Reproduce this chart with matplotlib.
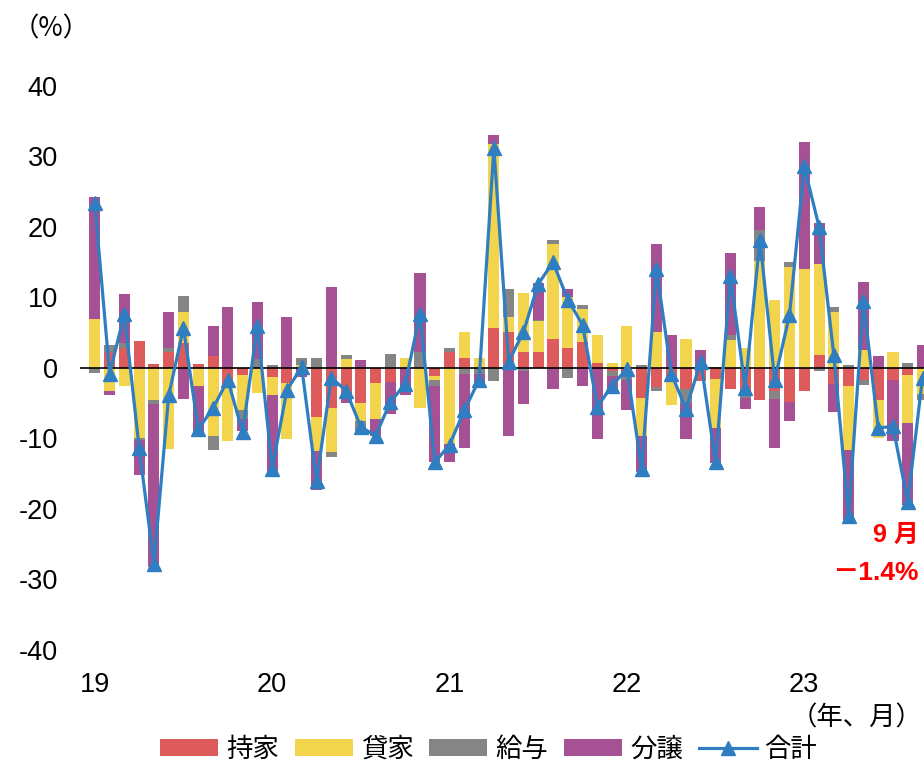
import matplotlib
matplotlib.use("Agg")
import matplotlib.pyplot as plt
import numpy as np
from matplotlib.patches import Patch
from matplotlib.lines import Line2D

plt.rcParams['font.family'] = ['Liberation Sans', 'Noto Sans CJK JP', 'DejaVu Sans']
plt.rcParams['axes.unicode_minus'] = False

year_labels = ["19", "20", "21", "22", "23"]
series_names = ["持家", "貸家", "給与", "分譲"]
total_name = "合計"

owner = [0.0, 2.3, 2.9, 3.8, 0.5, 2.3, 3.5, 0.5, 1.7, -2.7, -1.0, 0.0,
         -1.3, -2.2, 0.0, -6.9, -5.7, -4.3, -5.0, -2.2, -2.0, 0.0, 0.0, -1.1,
         2.2, 1.4, 0.0, 5.6, 5.1, 2.2, 2.2, 4.1, 2.8, 3.7, 0.7, -0.4,
         -0.5, -4.2, -2.7, -1.8, -3.0, -1.8, -1.5, -3.0, -3.7, -4.5, -3.2, -4.8,
         -3.2, 1.8, -2.3, -2.6, -1.7, -4.5, -1.7, -1.0, 0.0]
rental = [6.9, -3.2, -2.6, -10.0, -4.6, -11.5, 4.5, -2.6, -9.7, -7.6, -5.0, -3.5,
          -2.5, -7.9, 0.4, -4.9, -6.2, 1.3, -2.5, -5.0, 0.0, 1.4, -5.7, -0.6,
          -10.8, 3.7, 1.4, 26.2, 2.1, 8.4, 4.4, 13.5, 7.2, 4.6, 4.0, 0.7,
          5.9, -5.5, 5.1, -3.5, 4.1, 0.2, -7.0, 3.9, 2.9, 15.2, 9.6, 14.3,
          14.1, 12.9, 8.0, -9.1, 2.6, -5.5, 2.2, -6.8, -3.7]
issued = [-0.7, 0.9, 0.6, -0.2, -0.5, 0.6, 2.2, 0.0, -1.9, 0.0, -1.2, 1.3,
          0.4, 0.0, 1.0, 1.4, -0.8, 0.6, -1.8, 0.0, 2.0, 0.0, 2.2, -0.9,
          0.7, -0.9, -0.9, -1.8, 4.0, -0.5, 0.2, 0.6, -1.4, 0.6, 0.0, -0.7,
          -1.2, 0.4, -0.6, 0.0, -1.9, 0.0, 0.2, 0.8, -0.5, 4.4, -1.2, 0.8,
          0.0, -0.5, 0.7, 0.4, -0.7, 0.0, 0.0, 0.7, -0.9]
forsale = [17.3, -0.6, 7.0, -5.0, -23.2, 5.0, -4.4, -6.8, 4.3, 8.7, -1.7, 8.0,
           -11.2, 7.2, -1.3, -5.5, 11.5, -0.6, 1.1, -2.4, -4.6, -3.8, 11.3, -10.8,
           -2.5, -10.4, -1.7, 1.2, -9.7, -4.6, 5.2, -3.0, 1.2, -2.6, -10.1, -2.4,
           -4.3, -5.1, 12.5, 4.7, -5.2, 2.4, -5.0, 11.6, -1.6, 3.2, -6.9, -2.7,
           17.9, 5.9, -4.0, -9.9, 9.6, 1.7, -8.7, -11.7, 3.2]
total = [23.4, -0.8, 7.6, -11.3, -27.8, -3.9, 5.7, -8.7, -5.7, -1.7, -9.1, 6.0,
         -14.3, -3.1, 0.1, -16.1, -1.4, -3.2, -8.4, -9.6, -4.8, -2.3, 7.7, -13.4,
         -10.9, -6.0, -1.7, 31.2, 0.9, 5.1, 11.9, 15.0, 9.7, 6.1, -5.5, -2.5,
         -0.1, -14.4, 14.1, -0.8, -5.8, 0.9, -13.4, 13.0, -2.8, 18.2, -1.7, 7.5,
         28.6, 20.0, 1.8, -21.0, 9.5, -8.5, -8.3, -19.0, -1.4]

colors = ["#DE5B5B", "#F2D54D", "#858585", "#A65193"]
line_color = "#2F7EC1"

fig = plt.figure(figsize=(9.24, 7.71), dpi=100)
ax = fig.add_axes([0.0866, 0.157, 0.9134, 0.7315])

n = len(total)
x = np.arange(n)
pos_base = np.zeros(n)
neg_base = np.zeros(n)
for vals, c in zip([owner, rental, issued, forsale], colors):
    v = np.array(vals)
    bottoms = np.where(v >= 0, pos_base, neg_base)
    ax.bar(x, v, bottom=bottoms, width=0.75, color=c, zorder=2, linewidth=0)
    pos_base = pos_base + np.where(v > 0, v, 0)
    neg_base = neg_base + np.where(v < 0, v, 0)

ax.axhline(0, color="black", linewidth=1.2, zorder=3)
ax.plot(x, total, color=line_color, linewidth=2.3, marker="^", markersize=10,
        zorder=4, clip_on=False)

ax.set_xlim(-1.0, 56.1)
ax.set_ylim(-40, 40)
ax.set_yticks(np.arange(-40, 41, 10))
ax.set_xticks(np.arange(0, n, 12))
ax.set_xticklabels(year_labels)
ax.tick_params(axis='y', length=0, labelsize=19.5, pad=16)
ax.tick_params(axis='x', length=0, labelsize=19.5, pad=16)
for s in ax.spines.values():
    s.set_visible(False)

cjk = ['Noto Sans CJK JP', 'DejaVu Sans']
fig.text(0.014, 0.963, "（%）", fontsize=19, ha="left", va="center", family=cjk)
fig.text(0.998, 0.069, "（年、月）", fontsize=19, ha="right", va="center", family=cjk)

fig.text(0.994, 0.306, "9 月", fontsize=18, ha="right", va="center",
         color="#FF0000", fontweight="bold",
         family=['Liberation Sans', 'Noto Sans CJK JP'])
fig.text(0.994, 0.257, "－1.4%", fontsize=19, ha="right", va="center",
         color="#FF0000", fontweight="bold",
         family=['Liberation Sans', 'Noto Sans CJK JP'])

handles = [Patch(facecolor=c, edgecolor='none') for c in colors]
handles.append(Line2D([0], [0], color=line_color, linewidth=2.3, marker="^",
                      markersize=10))
labels = series_names + [total_name]
fig.legend(handles, labels, loc="center", bbox_to_anchor=(0.529, 0.028),
           ncol=5, frameon=False, handlelength=2.2,
           handleheight=0.65, handletextpad=0.3, columnspacing=0.6,
           prop={'family': cjk, 'size': 19})

fig.savefig("out.png", dpi=100)
